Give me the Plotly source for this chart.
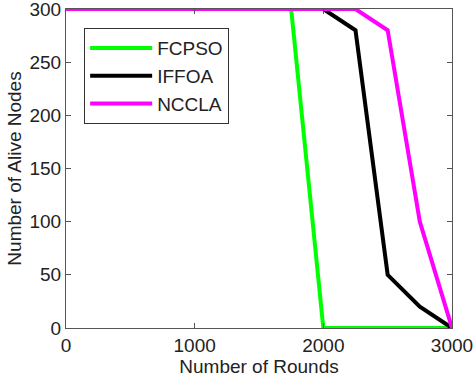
import plotly.graph_objects as go

fcpso_x = [0, 1750, 2000, 3000]
fcpso_y = [300, 300, 0, 0]
iffoa_x = [0, 2000, 2250, 2500, 2750, 3000]
iffoa_y = [300, 300, 280, 50, 20, 0]
nccla_x = [0, 2250, 2500, 2750, 3000]
nccla_y = [300, 300, 280, 100, 0]

x_ticks = [0, 1000, 2000, 3000]
y_ticks = [0, 50, 100, 150, 200, 250, 300]

fig = go.Figure()
fig.add_trace(go.Scatter(x=fcpso_x, y=fcpso_y, mode="lines", name="FCPSO",
                         line=dict(color="#00ff00", width=4)))
fig.add_trace(go.Scatter(x=iffoa_x, y=iffoa_y, mode="lines", name="IFFOA",
                         line=dict(color="#000000", width=4)))
fig.add_trace(go.Scatter(x=nccla_x, y=nccla_y, mode="lines", name="NCCLA",
                         line=dict(color="#ff00ff", width=4)))

font = dict(family="Liberation Sans, Arial, sans-serif", size=19, color="#222222")
axis_common = dict(showgrid=False, zeroline=False, showline=True, linecolor="#555555",
                   linewidth=1, mirror="ticks", ticks="inside", ticklen=5,
                   tickcolor="#555555", tickfont=font, automargin=False,
                   ticklabeloverflow="allow")

fig.update_layout(
    width=474, height=377,
    margin=dict(l=66, r=22, t=9, b=49),
    paper_bgcolor="white", plot_bgcolor="white",
    font=font,
    showlegend=True,
    legend=dict(x=0.047, y=0.94, xanchor="left", yanchor="top",
                bordercolor="#333333", borderwidth=1, bgcolor="white",
                font=dict(family="Liberation Sans, Arial, sans-serif", size=19, color="#222222"),
                tracegroupgap=0, itemwidth=62),
    xaxis=dict(range=[0, 3000], tickvals=x_ticks, ticktext=[str(v) for v in x_ticks],
               title=dict(text="Number of Rounds", font=font, standoff=3), **axis_common),
    yaxis=dict(range=[0, 300], tickvals=y_ticks, ticktext=[str(v) for v in y_ticks],
               title=dict(text="Number of Alive Nodes", font=font, standoff=2), **axis_common),
)

fig.write_html("out.html", config={"displayModeBar": False},
               post_script="document.body.style.margin='0px';document.body.style.padding='0px';")
